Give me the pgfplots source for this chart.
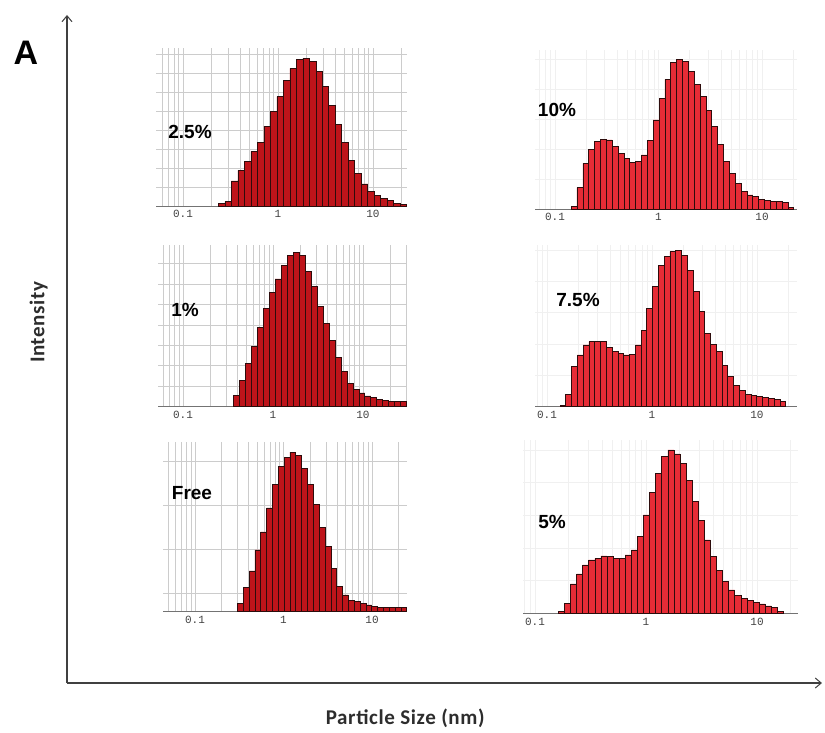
\documentclass[border=0pt]{standalone}
\usepackage{fontspec}
\setmainfont{Liberation Sans}
\newfontfamily\calfont[LetterSpace=3]{Carlito}
\newfontfamily\monofont{Liberation Mono}
\usepackage{pgfplots}
\pgfplotsset{compat=1.18}
\usepackage{pgfplotstable}
\usetikzlibrary{arrows.meta}

\definecolor{barL}{RGB}{190,20,26}
\definecolor{barR}{RGB}{230,44,54}
\definecolor{edgeC}{RGB}{45,12,12}
\definecolor{labC}{RGB}{45,45,45}

\pgfplotstableread{
x y
-0.6280 1.5
-0.5596 3
-0.4912 17
-0.4228 24
-0.3544 30
-0.2860 37
-0.2176 43
-0.1492 54
-0.0808 64
-0.0124 74
0.0560 85
0.1244 93
0.1928 99
0.2612 100
0.3296 98
0.3980 91
0.4664 81
0.5348 68
0.6032 55
0.6716 43
0.7400 31
0.8084 22
0.8768 15
0.9452 10
1.0136 7
1.0820 5
1.1504 4
1.2188 2
1.2872 1
1.3556 1
}\tTwoFive

\pgfplotstableread{
x y
-0.4410 7.5
-0.3746 17
-0.3082 28
-0.2418 39
-0.1754 51.5
-0.1090 64
-0.0426 74
0.0238 83
0.0902 92
0.1566 98.5
0.2230 100
0.2894 98
0.3558 88
0.4222 78
0.4886 65
0.5550 54
0.6214 43
0.6878 32
0.7542 23
0.8206 15
0.8870 11
0.9534 9
1.0198 7
1.0862 6
1.1526 5
1.2190 4
1.2854 3.7
1.3518 3.7
1.4182 3.7
1.4846 3.7
}\tOne

\pgfplotstableread{
x y
-0.522 5
-0.456 15
-0.390 25.5
-0.324 38.7
-0.258 50
-0.192 65
-0.126 79.5
-0.060 91
0.006 96.7
0.072 100
0.138 98
0.204 90
0.270 79.5
0.336 67
0.402 53
0.468 41
0.534 27
0.600 15.7
0.666 10.5
0.732 7.3
0.798 6.3
0.864 5.2
0.930 4.2
0.996 3.1
1.062 2.7
1.128 2.7
1.194 2.7
1.260 2.7
1.326 2.7
1.392 2.7
}\tFree

\pgfplotstableread{
x y
-0.8440 1.6
-0.7874 14.3
-0.7308 30.5
-0.6742 39.9
-0.6176 45
-0.5610 46.5
-0.5044 46.1
-0.4478 41.6
-0.3912 37.2
-0.3346 33.9
-0.2780 31
-0.2214 31.6
-0.1648 36.1
-0.1082 45.7
-0.0516 59.5
0.0050 74
0.0616 86.6
0.1182 97.8
0.1748 100
0.2314 98.4
0.2880 92
0.3446 83
0.4012 75
0.4578 66
0.5144 55
0.5710 43
0.6276 32
0.6842 23.8
0.7408 17.1
0.7974 11.6
0.8540 9.4
0.9106 8.2
0.9672 6.5
1.0238 5.6
1.0804 4.9
1.1370 4.9
1.1936 4.2
1.2502 1.1
1.3068 1.1
}\tTen

\pgfplotstableread{
x y
-0.8760 0.6
-0.8209 7.9
-0.7658 25.5
-0.7107 33
-0.6556 39.4
-0.6005 41.5
-0.5454 41.9
-0.4903 41.5
-0.4352 37.7
-0.3801 35.5
-0.3250 34
-0.2699 33
-0.2148 33.4
-0.1597 39.4
-0.1046 48.9
-0.0495 62.8
0.0056 76.6
0.0607 90.4
0.1158 95.7
0.1709 98.9
0.2260 100
0.2811 96.8
0.3362 87.2
0.3913 73.8
0.4464 60.6
0.5015 46.8
0.5566 39.8
0.6117 35.1
0.6668 26.6
0.7219 19.1
0.7770 13.8
0.8321 10.2
0.8872 7.9
0.9423 7
0.9974 6.4
1.0525 5.7
1.1076 5.3
1.1627 4.9
1.2178 3.6
1.2729 3.6
}\tSevenFive

\pgfplotstableread{
x y
-0.7900 1
-0.7352 6.1
-0.6804 18
-0.6256 24.1
-0.5708 29.6
-0.5160 32.7
-0.4612 33.7
-0.4064 35.1
-0.3516 34.7
-0.2968 33.7
-0.2420 33.7
-0.1872 35.7
-0.1324 38.8
-0.0776 47.3
-0.0228 60.2
0.0320 73.9
0.0868 85.7
0.1416 96.3
0.1964 100
0.2512 97.6
0.3060 91.8
0.3608 81.6
0.4156 68.4
0.4704 57.1
0.5252 44.9
0.5800 34.7
0.6348 26.5
0.6896 19.4
0.7444 14.3
0.7992 11.2
0.8540 9.2
0.9088 7.8
0.9636 6.5
1.0184 5.7
1.0732 4.5
1.1280 3.7
1.1828 1
1.2376 1
}\tFive

\pgfplotsset{
  panel/.style={
    scale only axis, anchor=south west,
    axis x line=bottom, axis y line=left,
    x axis line style={-, draw=black!55, line width=0.8pt},
    y axis line style={draw=none},
    ymin=0,
    xtick={-1,0,1}, xticklabels={0.1,1,10},
    minor xtick={-1.69897,-1.52288,-1.39794,-1.30103,-1.22185,-1.15490,-1.09691,-1.04576,-0.69897,-0.52288,-0.39794,-0.30103,-0.22185,-0.15490,-0.09691,-0.04576,0.30103,0.47712,0.60206,0.69897,0.77815,0.84510,0.90309,0.95424,1.30103,1.47712,1.60206,1.69897,1.77815,1.84510,1.90309,1.95424},
    major tick length=0pt, minor tick length=0pt,
    yticklabels={},
    xmajorgrids, xminorgrids, ymajorgrids,
    xticklabel style={font=\monofont\fontsize{11}{11}\selectfont, text=black!75, yshift=-1pt},
  },
  gridL/.style={major grid style={draw=black!20, line width=0.5pt}, minor grid style={draw=black!20, line width=0.5pt}},
  gridR/.style={major grid style={draw=black!6, line width=0.5pt}, minor grid style={draw=black!6, line width=0.5pt}},
  barsL/.style={ybar interval, fill=barL, draw=edgeC, line width=0.6pt},
  barsR/.style={ybar interval, fill=barR, draw=edgeC, line width=0.6pt},
}

\begin{document}
\begin{tikzpicture}
\path[use as bounding box] (0pt,0pt) rectangle (825pt,-733pt);

% outer frame
\begin{axis}[
  at={(67pt,-683pt)}, anchor=south west, scale only axis,
  width=755pt, height=668pt,
  xmin=0, xmax=1, ymin=0, ymax=1,
  axis lines=left,
  axis line style={-{Straight Barb[length=6pt,width=10pt,line width=1pt]}, line width=1.3pt, draw=black!75},
  xtick=\empty, ytick=\empty,
  xlabel={Particle Size (nm)},
  ylabel={Intensity},
  xlabel style={font=\calfont\bfseries\fontsize{21}{21}\selectfont, text=labC, at={(axis description cs:0.448,-0.0524)}, anchor=center},
  ylabel style={font=\calfont\bfseries\fontsize{21}{21}\selectfont, text=labC, at={(axis description cs:-0.0375,0.54)}, anchor=center},
]
\end{axis}

% 2.5%
\begin{axis}[panel, gridL, at={(156pt,-206pt)}, width=251pt, height=158pt,
  xmin=-1.284, xmax=1.358, ymax=106.8, ytick={12.8,25.6,...,110}]
\addplot[barsL] table[x=x,y=y] {\tTwoFive};
\end{axis}

% 1%
\begin{axis}[panel, gridL, at={(158pt,-406.7pt)}, width=249pt, height=161.7pt,
  xmin=-1.278, xmax=1.489, ymax=105, ytick={13.3,26.6,...,106}]
\addplot[barsL] table[x=x,y=y] {\tOne};
\end{axis}

% Free
\begin{axis}[panel, gridL, at={(163pt,-611.7pt)}, width=244pt, height=169.7pt,
  xmin=-1.362, xmax=1.395, ymax=106.3, ytick={11.5,39,66.5,94}]
\addplot[barsL] table[x=x,y=y] {\tFree};
\end{axis}

% 10%
\begin{axis}[panel, gridR, at={(535pt,-209pt)}, width=262pt, height=159pt,
  xmin=-1.193, xmax=1.338, ymax=106.2, ytick={20,40,...,100}]
\addplot[barsR] table[x=x,y=y] {\tTen};
\end{axis}

% 7.5%
\begin{axis}[panel, gridR, at={(535pt,-406.7pt)}, width=262pt, height=161.7pt,
  xmin=-1.114, xmax=1.381, ymax=103.2, ytick={20,40,...,100}]
\addplot[barsR] table[x=x,y=y] {\tSevenFive};
\end{axis}

% 5%
\begin{axis}[panel, gridR, at={(523pt,-613.3pt)}, width=275pt, height=173.3pt,
  xmin=-1.108, xmax=1.369, ymax=106.1, ytick={20,40,...,100}]
\addplot[barsR] table[x=x,y=y] {\tFive};
\end{axis}

% labels
\node[font=\bfseries\fontsize{34}{34}\selectfont] at (26pt,-53pt) {A};
\node[font=\bfseries\fontsize{19}{19}\selectfont] at (190pt,-132pt) {2.5\%};
\node[font=\bfseries\fontsize{19}{19}\selectfont] at (185pt,-310pt) {1\%};
\node[font=\bfseries\fontsize{19}{19}\selectfont] at (192pt,-493pt) {Free};
\node[font=\bfseries\fontsize{19}{19}\selectfont] at (557pt,-110pt) {10\%};
\node[font=\bfseries\fontsize{19}{19}\selectfont] at (578pt,-300pt) {7.5\%};
\node[font=\bfseries\fontsize{19}{19}\selectfont] at (552pt,-522pt) {5\%};
\end{tikzpicture}
\end{document}
